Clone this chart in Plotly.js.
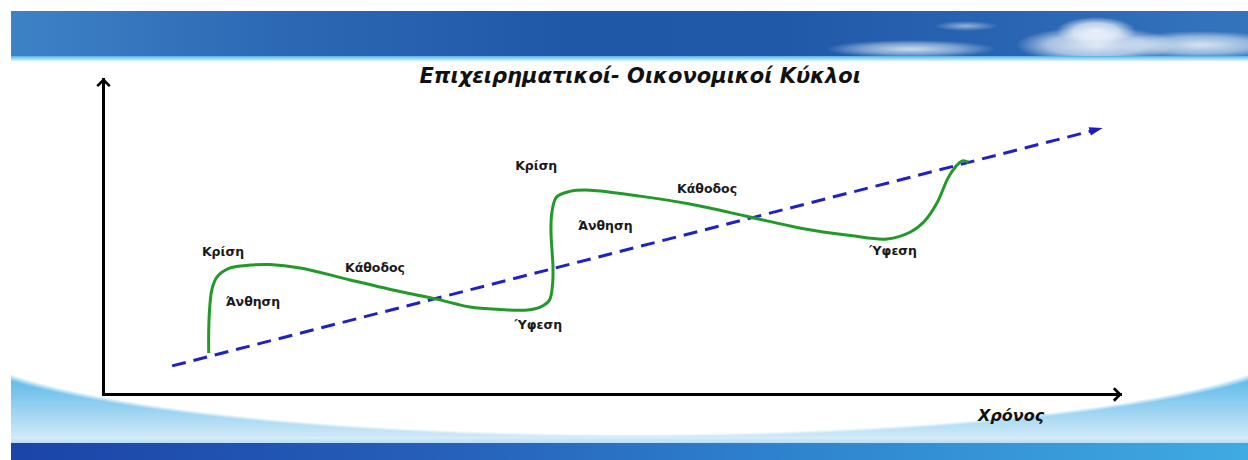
<!DOCTYPE html>
<html>
<head>
<meta charset="utf-8">
<script src="https://cdn.plot.ly/plotly-3.0.1.min.js"></script>
<style>
  html, body { margin: 0; padding: 0; background: #fff; }
  #slide { position: relative; width: 1248px; height: 460px; overflow: hidden; background: #fff; }
  #header { position: absolute; left: 11px; top: 11px; width: 1237px; height: 45px;
    background:
      radial-gradient(ellipse 40px 14px at 1085px 20px, rgba(240,245,252,0.95) 0%, rgba(240,245,252,0.75) 55%, rgba(240,245,252,0) 100%),
      radial-gradient(ellipse 80px 18px at 1085px 34px, rgba(234,241,250,0.95) 0%, rgba(234,241,250,0.65) 60%, rgba(234,241,250,0) 100%),
      radial-gradient(ellipse 85px 14px at 1190px 34px, rgba(228,238,248,0.92) 0%, rgba(228,238,248,0.55) 60%, rgba(228,238,248,0) 100%),
      radial-gradient(ellipse 85px 9px at 900px 38px, rgba(222,234,247,0.9) 0%, rgba(222,234,247,0.45) 60%, rgba(222,234,247,0) 100%),
      radial-gradient(ellipse 32px 5px at 955px 15px, rgba(220,232,246,0.6) 0%, rgba(220,232,246,0) 100%),
      linear-gradient(90deg, #3e82c6 0%, #2c68b4 22%, #2058a8 45%, #2159a9 62%, #2964b2 80%, #3474bd 100%);
  }
  #stripe { position: absolute; left: 11px; top: 56px; width: 1237px; height: 5px;
    background: linear-gradient(180deg, #4fb6e8 0%, #8fd0f0 45%, #e2f3fb 100%); }
  #swoosh { position: absolute; left: 11px; top: 360px; width: 1237px; height: 77px;
    background:
      radial-gradient(ellipse 690px 100px at 619px -23px, #ffffff 97%, rgba(255,255,255,0) 100%),
      linear-gradient(180deg, #42aee6 0%, #7cc6ee 45%, #cfe9f7 100%); }
  #lightbar { position: absolute; left: 11px; top: 437px; width: 1237px; height: 6px;
    background: linear-gradient(180deg, #d8eef9, #b9def4); }
  #darkbar { position: absolute; left: 11px; top: 443px; width: 1237px; height: 17px;
    background: linear-gradient(90deg, #1b44a8 0%, #2660ba 35%, #2f86cf 65%, #40aae2 100%); }
  #chart { position: absolute; left: 0; top: 0; width: 1248px; height: 460px; }
</style>
</head>
<body>
<div id="slide">
  <div id="header"></div>
  <div id="stripe"></div>
  <div id="swoosh"></div>
  <div id="lightbar"></div>
  <div id="darkbar"></div>
  <div id="chart"></div>
</div>
<script>
// Business cycle curve (time vs economic activity, arbitrary units 0-100)
const cycleTime = [10.2, 10.2, 10.3, 10.5, 11.0, 12.3, 14.3, 16.2, 19.2, 24.1, 29.0, 32.6, 35.9, 38.8, 41.3, 42.8, 43.7, 44.0, 44.05, 43.95, 43.85, 43.95, 44.4, 45.7, 47.7, 52.6, 57.5, 63.4, 68.3, 73.3, 76.9, 79.2, 80.6, 81.8, 82.9, 83.6, 84.3, 84.9];
const cycleActivity = [12.7, 20.0, 27.3, 32.7, 36.8, 39.7, 40.6, 40.8, 39.7, 35.9, 32.2, 29.8, 27.3, 26.5, 26.3, 27.3, 29.5, 34.3, 40.0, 45.4, 51.7, 57.5, 62.2, 64.0, 64.4, 62.5, 60.0, 55.9, 52.4, 50.0, 48.9, 51.1, 54.6, 60.3, 68.3, 71.7, 73.7, 73.3];

// Long-run trend
const trendTime = [6.6, 98.1];
const trendActivity = [8.6, 84.1];

// Phase labels
const phaseLabels = ['Κρίση', 'Άνθηση', 'Κάθοδος', 'Ύφεση', 'Κρίση', 'Άνθηση', 'Κάθοδος', 'Ύφεση'];
const phaseTime = [11.6, 14.55, 26.55, 42.6, 42.4, 49.2, 59.2, 77.5];
const phaseActivity = [44.4, 28.6, 39.4, 21.3, 71.7, 52.7, 64.4, 44.8];

const titleText = 'Επιχειρηματικοί- Οικονομικοί Κύκλοι';
const xAxisLabel = 'Χρόνος';

const traces = [
  {
    x: trendTime, y: trendActivity, type: 'scatter', mode: 'lines+markers',
    line: { color: '#2020c4', width: 3, dash: '14px,8px' },
    marker: { symbol: 'arrow', size: [0, 14], angleref: 'previous', color: '#1c1cc0', opacity: 1, line: { width: 0 } },
    hoverinfo: 'skip', showlegend: false
  },
  {
    x: cycleTime, y: cycleActivity, type: 'scatter', mode: 'lines',
    line: { color: '#22992a', width: 3, shape: 'spline', smoothing: 1 },
    hoverinfo: 'skip', showlegend: false
  },
  {
    x: phaseTime, y: phaseActivity, type: 'scatter', mode: 'text',
    text: phaseLabels.map(t => '<b>' + t + '</b>'),
    textposition: 'middle center',
    textfont: { family: 'DejaVu Sans, Verdana, sans-serif', size: 12.5, color: '#1a1a1a' },
    hoverinfo: 'skip', showlegend: false
  }
];

const axisCommon = {
  range: [0, 100], showline: true, linecolor: '#000', linewidth: 3,
  showgrid: false, zeroline: false, showticklabels: false, ticks: '', fixedrange: true
};

const layout = {
  width: 1248, height: 460,
  margin: { l: 105, r: 126, t: 78, b: 67 },
  paper_bgcolor: 'rgba(0,0,0,0)', plot_bgcolor: 'rgba(0,0,0,0)',
  title: {
    text: '<b><i>' + titleText + '</i></b>',
    xref: 'container', yref: 'container', x: 0.513, y: 0.835,
    xanchor: 'center', yanchor: 'middle',
    font: { family: 'DejaVu Sans, Open Sans, sans-serif', size: 21, color: '#111' }
  },
  xaxis: Object.assign({}, axisCommon),
  yaxis: Object.assign({}, axisCommon),
  annotations: [
    { x: 0, y: 1, xref: 'paper', yref: 'paper', ax: 0, ay: 40, text: '', showarrow: true,
      arrowhead: 4, arrowsize: 0.8, arrowwidth: 3, arrowcolor: '#000', xshift: -1.5 },
    { x: 1, y: 0, xref: 'paper', yref: 'paper', ax: -40, ay: 0, text: '', showarrow: true,
      arrowhead: 4, arrowsize: 0.8, arrowwidth: 3, arrowcolor: '#000', yshift: -1.5 },
    { x: 0.891, y: -0.073, xref: 'paper', yref: 'paper', text: '<b><i>' + xAxisLabel + '</i></b>',
      showarrow: false, xanchor: 'center', yanchor: 'middle',
      font: { family: 'DejaVu Sans, Open Sans, sans-serif', size: 16, color: '#111' } }
  ]
};

Plotly.newPlot('chart', traces, layout, { staticPlot: true, displayModeBar: false });
</script>
</body>
</html>
